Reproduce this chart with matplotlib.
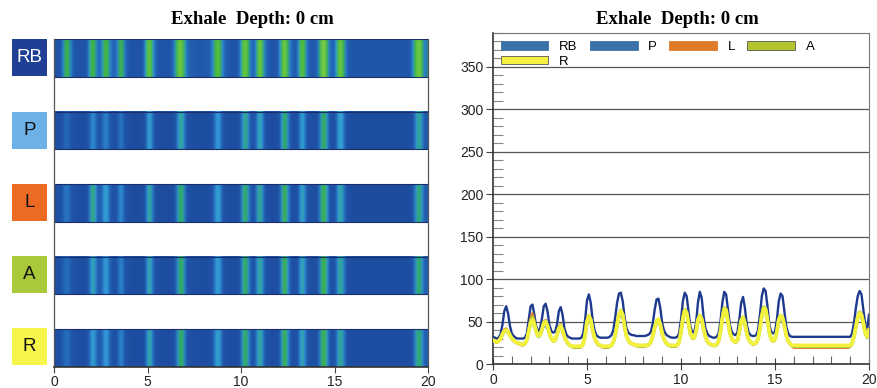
import numpy as np
import matplotlib
matplotlib.use('Agg')
import matplotlib.pyplot as plt
from matplotlib.colors import LinearSegmentedColormap, Normalize
from matplotlib.patches import Rectangle, Patch
from matplotlib.ticker import MultipleLocator

plt.rcParams['font.family'] = ['Liberation Sans', 'DejaVu Sans']

# ---------------- data (sampled every 0.1 s, 0..20 s) ----------------
time_s = np.round(np.arange(201) * 0.1, 1)
series_names = ['RB', 'P', 'L', 'A', 'R']

rb = [32,31,30,31,35,46,62,68,60,45,
      36,33,31,30,30,30,30,31,36,52,
      68,70,58,44,39,41,53,68,71,62,
      46,39,37,38,46,62,67,58,42,35,
      32,31,30,30,30,30,30,31,36,52,
      75,82,72,52,40,34,32,31,31,31,
      31,31,32,34,40,55,72,83,84,74,
      55,42,37,35,34,34,33,33,33,33,
      33,33,34,35,38,48,64,76,77,66,
      48,39,35,33,32,31,31,31,32,36,
      52,74,84,80,62,44,38,37,48,72,
      85,78,56,42,36,33,32,31,31,32,
      36,50,72,85,82,64,46,38,35,34,
      37,52,72,79,66,46,37,34,33,33,
      34,40,58,80,89,86,68,46,38,36,
      38,52,74,83,80,62,44,36,33,32,
      32,32,32,32,32,32,32,32,32,32,
      32,32,32,32,32,32,32,32,32,32,
      32,32,32,32,32,32,32,32,32,32,
      32,36,48,66,80,86,82,64,46,40,
      58]

p = [27,26,25,26,29,33,37,38,36,32,
     29,27,25,24,23,22,22,23,27,36,
     44,47,42,35,31,32,37,43,44,40,
     33,28,26,27,32,39,42,37,30,26,
     23,21,20,19,19,19,19,20,23,32,
     46,52,48,37,29,25,22,21,20,19,
     19,19,20,21,25,32,43,53,57,53,
     41,31,27,24,23,22,21,21,20,20,
     20,21,21,22,25,31,41,48,50,44,
     34,28,24,22,21,20,20,20,21,25,
     36,50,58,56,45,34,30,30,36,49,
     55,51,40,31,26,23,22,21,21,22,
     26,36,51,62,60,48,35,29,26,25,
     27,36,48,52,45,34,28,25,23,23,
     24,29,40,54,63,61,49,35,28,26,
     28,36,48,52,51,42,32,26,23,21,
     20,20,20,20,20,20,20,20,20,20,
     20,20,20,20,20,20,20,20,20,20,
     20,20,20,20,20,20,20,20,20,20,
     20,23,30,41,52,57,55,45,35,30,
     37]

l = [27,26,25,26,30,36,41,42,39,34,
     29,27,25,24,23,22,22,23,29,42,
     55,60,52,41,34,35,42,50,52,46,
     36,30,26,27,35,44,47,41,32,26,
     23,21,20,19,19,19,19,20,23,34,
     51,58,53,40,30,25,22,21,20,19,
     19,19,20,21,25,34,47,58,62,57,
     43,32,27,24,23,22,21,21,20,20,
     20,21,21,22,25,33,43,50,52,46,
     35,28,24,22,21,20,20,20,21,25,
     38,54,62,59,47,35,30,30,38,53,
     58,54,42,31,26,23,22,21,21,22,
     26,38,54,66,63,50,36,29,26,25,
     27,37,50,54,47,35,28,25,23,23,
     24,29,42,57,66,64,51,36,28,26,
     28,37,51,55,54,44,33,26,23,21,
     19,19,19,19,19,19,19,19,19,19,
     19,19,19,19,19,19,19,19,19,19,
     19,19,19,19,19,19,19,19,19,19,
     20,23,31,43,54,60,57,47,36,31,
     39]

a = [28,27,26,27,30,35,39,40,38,34,
     30,28,26,25,24,23,23,24,28,39,
     50,55,48,39,33,34,41,49,50,45,
     36,30,27,28,34,42,45,40,32,27,
     24,22,21,20,20,20,20,21,24,34,
     50,56,52,40,31,26,23,22,21,20,
     20,20,21,22,26,34,46,58,63,58,
     44,33,28,25,24,23,22,22,21,21,
     21,22,22,23,26,33,43,50,52,46,
     36,29,25,23,22,21,21,21,22,26,
     38,54,64,61,48,36,31,31,38,52,
     57,53,42,32,27,24,23,22,22,23,
     27,38,54,66,64,50,37,30,27,26,
     28,38,51,55,48,36,29,26,24,24,
     25,30,42,57,67,65,52,37,29,27,
     29,38,52,57,55,45,34,27,24,22,
     21,21,21,21,21,21,21,21,21,21,
     21,21,21,21,21,21,21,21,21,21,
     21,21,21,21,21,21,21,21,21,21,
     21,24,32,44,55,61,58,48,37,32,
     40]

r = [28,27,26,27,30,35,39,40,38,34,
     30,28,26,25,24,23,23,24,28,38,
     48,52,46,38,33,34,40,48,50,45,
     36,30,27,28,34,42,45,40,32,27,
     24,22,21,21,21,21,21,21,24,34,
     50,57,52,40,31,26,23,22,21,21,
     21,21,21,22,26,34,46,58,63,58,
     44,33,28,25,24,23,22,22,22,22,
     22,22,22,23,26,33,43,51,53,47,
     36,29,25,23,22,22,22,22,22,26,
     38,54,63,60,48,36,31,31,38,52,
     57,53,42,32,27,24,23,22,22,23,
     27,38,54,65,63,50,37,30,27,26,
     28,38,51,55,48,36,29,26,24,24,
     25,30,42,57,66,64,52,37,29,27,
     29,38,52,57,55,45,34,27,24,22,
     22,22,22,22,22,22,22,22,22,22,
     22,22,22,22,22,22,22,22,22,22,
     22,22,22,22,22,22,22,22,22,22,
     22,24,32,44,55,60,58,48,37,32,
     40]

series_values = [rb, p, l, a, r]
x_ticks = [0, 5, 10, 15, 20]
y_ticks = [0, 50, 100, 150, 200, 250, 300, 350]
title_text = 'Exhale  Depth: 0 cm'

# ---------------- styles ----------------
W, H = 878, 388
fig = plt.figure(figsize=(W / 100, H / 100), dpi=100)

def fbox(x0, y0, x1, y1):
    return [x0 / W, (H - y1) / H, (x1 - x0) / W, (y1 - y0) / H]

box_colors = ['#1f3f95', '#6cb2e8', '#ec6a22', '#a9c83a', '#f6f64a']
box_text_colors = ['white', '#111111', '#111111', '#111111', '#111111']
line_colors = ['#1d3a8e', '#72b4e0', '#e07b2a', '#b4c83c', '#f2f23c']
legend_colors = ['#3c72a8', '#3c72a8', '#e07b2a', '#b4c42c', '#f5f040']
line_widths = [1.7, 1.2, 1.5, 2.6, 2.6]

heat_cmap = LinearSegmentedColormap.from_list('heat', [
    (0.00, '#1d4a9c'),
    (0.20, '#1f54a8'),
    (0.32, '#2670c0'),
    (0.45, '#33a0da'),
    (0.56, '#2fa868'),
    (0.70, '#45b83c'),
    (1.00, '#8cd448'),
])
heat_norm = Normalize(vmin=15, vmax=95)

# ---------------- left panel: strips ----------------
axL = fig.add_axes(fbox(54, 39, 428, 367))
period = 72.3
strip_h = 37.5
for k, vals in enumerate(series_values):
    y0 = k * period
    y1 = y0 + strip_h
    axL.imshow(np.array(vals, dtype=float)[None, :], aspect='auto',
               extent=[time_s[0] - 0.05, time_s[-1] + 0.05, y1, y0],
               cmap=heat_cmap, norm=heat_norm, interpolation='bicubic')
    axL.add_patch(Rectangle((0, y0), 20, strip_h, fill=False,
                            edgecolor='#1a2f6a', lw=0.8))
    cy = 39 + y0 + strip_h / 2
    bax = fig.add_axes(fbox(12, cy - 18.5, 47, cy + 18.5))
    bax.set_xlim(0, 1); bax.set_ylim(0, 1)
    bax.add_patch(Rectangle((0, 0), 1, 1, color=box_colors[k]))
    bax.text(0.5, 0.5, series_names[k], ha='center', va='center',
             fontsize=13.5, color=box_text_colors[k])
    bax.axis('off')

axL.set_xlim(0, 20)
axL.set_ylim(4 * period + strip_h, 0)
axL.set_xticks(x_ticks)
axL.set_yticks([])
axL.spines['top'].set_visible(False)
for s in ['left', 'right']:
    axL.spines[s].set_color('#555555'); axL.spines[s].set_linewidth(0.9)
axL.spines['bottom'].set_color('#333333'); axL.spines['bottom'].set_linewidth(1.2)
axL.tick_params(axis='x', direction='out', length=4, color='#444444',
                labelsize=10, labelcolor='#222222', pad=2)
fig.text(252 / W, 1 - 19 / H, title_text, ha='center', va='center',
         fontsize=13.5, fontweight='bold', family='Liberation Serif')

# ---------------- right panel: lines ----------------
axR = fig.add_axes(fbox(493, 33, 869, 364))
for k, vals in enumerate(series_values):
    axR.plot(time_s, vals, color=line_colors[k], lw=line_widths[k], zorder=3 + k)
axR.set_xlim(0, 20)
axR.set_ylim(0, 390)
axR.set_xticks(x_ticks)
axR.set_yticks(y_ticks)
axR.xaxis.set_minor_locator(MultipleLocator(1))
axR.yaxis.set_minor_locator(MultipleLocator(10))
for yv in y_ticks[1:]:
    axR.axhline(yv, color='#555555', lw=0.9, zorder=1)
axR.tick_params(axis='y', which='major', direction='out', length=5,
                color='#444444', labelsize=10, labelcolor='#222222', pad=2)
axR.tick_params(axis='y', which='minor', direction='in', length=7,
                color='#888888', width=0.8)
axR.tick_params(axis='x', which='major', direction='inout', length=9,
                color='#444444', labelsize=10, labelcolor='#222222', pad=2)
axR.tick_params(axis='x', which='minor', direction='in', length=6,
                color='#666666', width=0.8)
for s in ['left', 'bottom']:
    axR.spines[s].set_color('#333333'); axR.spines[s].set_linewidth(1.2)
for s in ['top', 'right']:
    axR.spines[s].set_color('#777777'); axR.spines[s].set_linewidth(0.8)

patches = {}
for k, name in enumerate(series_names):
    ec = '#555555' if name in ('R', 'A') else legend_colors[k]
    patches[name] = Patch(facecolor=legend_colors[k], edgecolor=ec, lw=0.6, label=name)
# column-major filling: RB/R share the first column, then P, L, A
legend_order = ['RB', 'R', 'P', 'L', 'A']
leg = axR.legend(handles=[patches[n] for n in legend_order], loc='upper left',
                 bbox_to_anchor=(0.0, 1.0), ncol=4, frameon=False, fontsize=9.5,
                 handlelength=3.6, handleheight=0.65, handletextpad=0.8,
                 columnspacing=0.95, labelspacing=0.2, borderaxespad=0.4,
                 borderpad=0.2)
fig.text(677 / W, 1 - 19 / H, title_text, ha='center', va='center',
         fontsize=13.5, fontweight='bold', family='Liberation Serif')

fig.savefig('out.png', dpi=100)
